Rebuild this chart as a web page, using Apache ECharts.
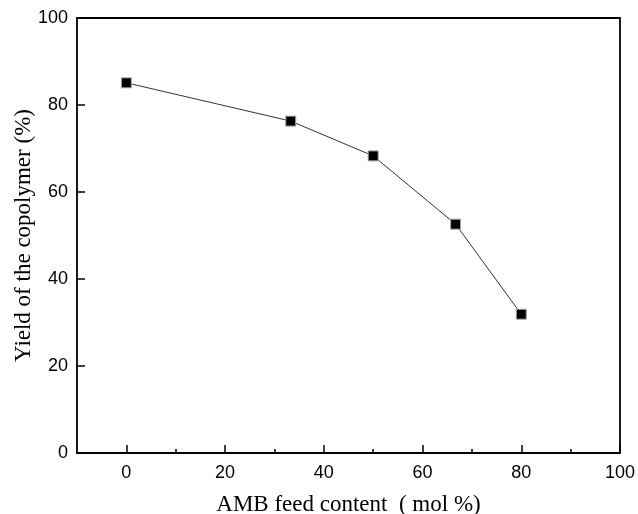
<!DOCTYPE html>
<html>
<head>
<meta charset="utf-8">
<script src="https://cdn.jsdelivr.net/npm/echarts@6/dist/echarts.min.js"></script>
<style>html,body{margin:0;padding:0;background:#fff}#c{width:638px;height:514px}</style>
</head>
<body>
<div id="c"></div>
<script>
var ambFeed = [0, 33.3, 50, 66.7, 80];
var yieldPct = [85.1, 76.3, 68.3, 52.6, 31.9];
var xMajorTicks = [0, 20, 40, 60, 80, 100];
var xMinorTicks = [10, 30, 50, 70, 90];
var xTitle = 'AMB feed content  ( mol %)';
var yTitle = 'Yield of the copolymer (%)';

var chart = echarts.init(document.getElementById('c'));
var labelFont = {fontFamily: 'Liberation Sans, Arial', fontSize: 18, color: '#000'};
var titleFont = {fontFamily: 'Liberation Serif, Times New Roman', fontSize: 23, color: '#000'};
var lineStyle = {color: '#000', width: 1.8};
chart.setOption({
  animation: false,
  backgroundColor: '#fff',
  grid: {left: 77, right: 18, top: 18, bottom: 61, containLabel: false, outerBoundsMode: 'none'},
  xAxis: [{
    type: 'value', min: -10, max: 100, position: 'bottom',
    name: xTitle, nameLocation: 'middle', nameGap: 40, nameMoveOverlap: false, nameTextStyle: titleFont,
    axisLine: {show: true, onZero: false, lineStyle: lineStyle},
    axisTick: {show: true, inside: true, length: 8, customValues: xMajorTicks, lineStyle: {color: '#000', width: 1.5}},
    axisLabel: Object.assign({show: true, margin: 11, customValues: xMajorTicks}, labelFont),
    splitLine: {show: false}
  }, {
    type: 'value', min: -10, max: 100, position: 'bottom',
    axisLine: {show: false, onZero: false},
    axisTick: {show: true, inside: true, length: 4, customValues: xMinorTicks, lineStyle: {color: '#000', width: 1.5}},
    axisLabel: {show: false},
    splitLine: {show: false}
  }, {
    type: 'value', min: -10, max: 100, position: 'top',
    axisLine: {show: true, onZero: false, lineStyle: lineStyle},
    axisTick: {show: false}, axisLabel: {show: false}, splitLine: {show: false}
  }],
  yAxis: [{
    type: 'value', min: 0, max: 100, interval: 20, position: 'left',
    name: yTitle, nameLocation: 'middle', nameGap: 42, nameMoveOverlap: false, nameRotate: 90, nameTextStyle: titleFont,
    axisLine: {show: true, onZero: false, lineStyle: lineStyle},
    axisTick: {show: true, inside: true, length: 8, lineStyle: {color: '#000', width: 1.5}},
    axisLabel: Object.assign({show: true, margin: 9}, labelFont),
    splitLine: {show: false}
  }, {
    type: 'value', min: 0, max: 100, interval: 20, position: 'right',
    axisLine: {show: true, onZero: false, lineStyle: lineStyle},
    axisTick: {show: false}, axisLabel: {show: false}, splitLine: {show: false}
  }],
  series: [{
    type: 'line',
    xAxisIndex: 0, yAxisIndex: 0,
    data: ambFeed.map(function (x, i) { return [x, yieldPct[i]]; }),
    symbol: 'rect', symbolSize: 10,
    lineStyle: {color: '#333', width: 1},
    itemStyle: {color: '#000', borderColor: '#aaa', borderWidth: 1},
    z: 3
  }]
});
</script>
</body>
</html>
